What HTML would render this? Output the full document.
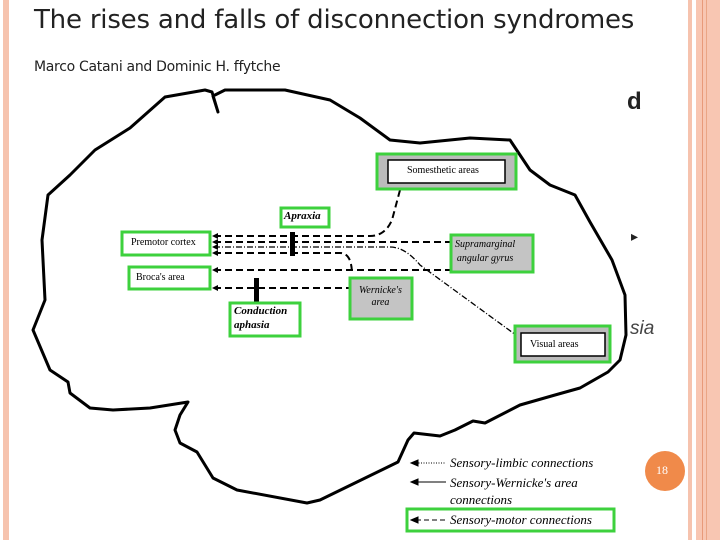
<!DOCTYPE html>
<html><head><style>
body{margin:0;width:720px;height:540px;background:#fff;overflow:hidden;position:relative;font-family:"Liberation Serif",serif}
.t{position:absolute;white-space:nowrap}
</style></head><body>
<div style="position:absolute;left:3px;top:0;width:6px;height:540px;background:#f6c3ae"></div>
<div style="position:absolute;left:688px;top:0;width:4px;height:540px;background:#f6c3ae"></div>
<div style="position:absolute;left:696px;top:0;width:24px;height:540px;background:#f8c6b2"></div>
<div style="position:absolute;left:702px;top:0;width:1px;height:540px;background:#e89a7a"></div>
<div style="position:absolute;left:706px;top:0;width:1px;height:540px;background:#eaa585"></div>
<div class="t" style="left:34px;top:5px;font:26px 'DejaVu Sans',sans-serif;color:#222;letter-spacing:-0.2px">The rises and falls of disconnection syndromes</div>
<div class="t" style="left:34px;top:59px;font:14px 'DejaVu Sans',sans-serif;color:#222;letter-spacing:-0.3px">Marco Catani and Dominic H. ffytche</div>
<div class="t" style="left:627px;top:88px;font:bold 24px 'Liberation Sans',sans-serif;color:#222">d</div>
<div class="t" style="left:631px;top:228px;font:14px 'Liberation Sans',sans-serif;color:#222">▸</div>
<div class="t" style="left:630px;top:318px;font:italic 19px 'Liberation Sans',sans-serif;color:#444">sia</div>
<svg width="720" height="540" style="position:absolute;left:0;top:0">
<path d="M414,433 L408,440 L398,462 L320,500 L307,503 L237,490 L213,478 L197,452 L180,443 L175,430 L180,415 L188,402 L150,408 L113,410 L90,408 L70,393 L68,382 L50,370 L33,330 L45,300 L42,240 L48,195 L70,175 L95,150 L130,128 L165,97 L205,90 L212,92 L218,112 L213,96 L225,90 L285,90 L330,100 L360,118 L390,140 L420,143 L470,138 L510,140 L530,170 L550,185 L575,195 L590,222 L612,260 L625,295 L626,335 L620,360 L608,372 L580,388 L555,395 L520,405 L485,423 L473,421 L455,430 L440,436 Z" fill="none" stroke="#000" stroke-width="3" stroke-linejoin="round"/>
<g fill="none" stroke="#000" stroke-width="2" stroke-dasharray="7,4">
<path d="M214,236 H370 Q385,236 392,220 L400,190"/>
<path d="M214,242 H450"/>
<path d="M214,253 H340 Q352,253 352,275"/>
<path d="M214,270 H450"/>
<path d="M214,288 H349"/>
</g>
<path d="M214,247 H390 Q405,247 420,265 L520,338" fill="none" stroke="#000" stroke-width="1.3" stroke-dasharray="6,2,1,2"/>
<g fill="#000"><path d="M212,236 l6,-3 v6z"/><path d="M212,242 l6,-3 v6z"/><path d="M212,247 l6,-3 v6z"/><path d="M212,253 l6,-3 v6z"/><path d="M212,270 l6,-3 v6z"/><path d="M212,288 l6,-3 v6z"/></g>
<rect x="290" y="232" width="5" height="24" fill="#000"/>
<rect x="254" y="278" width="5" height="24" fill="#000"/>
<g stroke="#3dd13d" stroke-width="3" fill="#fff">
<rect x="377" y="154" width="139" height="35" fill="#bbb"/>
<rect x="281" y="208" width="48" height="19"/>
<rect x="122" y="232" width="88" height="23"/>
<rect x="129" y="267" width="81" height="22"/>
<rect x="451" y="235" width="82" height="37" fill="#c4c4c4"/>
<rect x="350" y="278" width="62" height="41" fill="#c4c4c4"/>
<rect x="230" y="303" width="70" height="33"/>
<rect x="515" y="326" width="95" height="36" fill="#bbb"/>
<rect x="407" y="509" width="207" height="22"/>
</g>
<rect x="388" y="160" width="117" height="23" fill="#fff" stroke="#000" stroke-width="1.5"/>
<rect x="521" y="333" width="84" height="23" fill="#fff" stroke="#000" stroke-width="1.5"/>
<g stroke="#000" fill="#000">
<line x1="416" y1="463" x2="446" y2="463" stroke-dasharray="1,1.5"/><path d="M411,463 l7,-3 v6z"/>
<line x1="416" y1="482" x2="446" y2="482"/><path d="M411,482 l7,-3 v6z"/>
<line x1="416" y1="520" x2="446" y2="520" stroke-dasharray="5,3"/><path d="M411,520 l7,-3 v6z"/>
</g>
<circle cx="665" cy="471" r="20" fill="#f08a4a"/>
</svg>
<div class="t" style="left:407px;top:165px;font:10px 'Liberation Serif',serif">Somesthetic areas</div>
<div class="t" style="left:284px;top:210px;font:bold italic 11px 'Liberation Serif',serif">Apraxia</div>
<div class="t" style="left:131px;top:237px;font:10px 'Liberation Serif',serif">Premotor cortex</div>
<div class="t" style="left:136px;top:272px;font:10px 'Liberation Serif',serif">Broca's area</div>
<div class="t" style="left:455px;top:238px;font:italic 10px/14px 'Liberation Serif',serif;text-align:center">Supramarginal<br>angular gyrus</div>
<div class="t" style="left:359px;top:285px;font:italic 10px/12px 'Liberation Serif',serif;text-align:center">Wernicke's<br>area</div>
<div class="t" style="left:234px;top:304px;font:bold italic 11px/14px 'Liberation Serif',serif">Conduction<br>aphasia</div>
<div class="t" style="left:530px;top:339px;font:10px 'Liberation Serif',serif">Visual areas</div>
<div class="t" style="left:450px;top:455px;font:italic 13px 'Liberation Serif',serif">Sensory-limbic connections</div>
<div class="t" style="left:450px;top:474px;font:italic 13px/17px 'Liberation Serif',serif">Sensory-Wernicke's area<br>connections</div>
<div class="t" style="left:450px;top:512px;font:italic 13px 'Liberation Serif',serif">Sensory-motor connections</div>
<div class="t" style="left:656px;top:463px;font:12px 'Liberation Serif',serif;color:#fff">18</div>
</body></html>
